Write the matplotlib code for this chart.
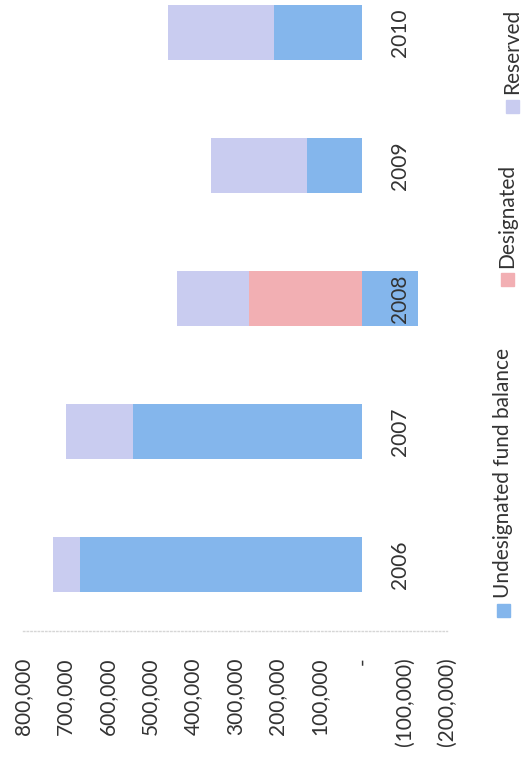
import matplotlib
matplotlib.use('Agg')
import matplotlib.pyplot as plt
from matplotlib.patches import Rectangle
from matplotlib.ticker import FuncFormatter

# ---- data ----
years = ['2006', '2007', '2008', '2009', '2010']
undesignated = [665000, 540000, -132000, 130000, 208000]
designated = [0, 0, 267000, 0, 0]
reserved = [64000, 158000, 169000, 226000, 250000]
value_ticks = [800000, 700000, 600000, 500000, 400000, 300000, 200000,
               100000, 0, -100000, -200000]
series_names = ['Undesignated fund balance', 'Designated', 'Reserved']

c_und = '#84b6ec'
c_des = '#f2afb3'
c_res = '#c9ccf0'
txt = '#333333'

plt.rcParams['font.family'] = ['Lato', 'DejaVu Sans']

W, H = 523, 759
fig = plt.figure(figsize=(W / 100, H / 100), dpi=100)
fig.patch.set_facecolor('white')

# chart is shown rotated 90 degrees: values grow to the left, years go upward
ax = fig.add_axes([23 / W, (H - 631) / H, (447 - 23) / W, (631 + 34) / H])
pos = list(range(len(years)))
bh = 0.41

des_left = [max(u, 0) for u in undesignated]
res_left = [max(u, 0) + d for u, d in zip(undesignated, designated)]

ax.barh(pos, undesignated, height=bh, color=c_und, label=series_names[0])
ax.barh(pos, designated, left=des_left, height=bh, color=c_des, label=series_names[1])
ax.barh(pos, reserved, left=res_left, height=bh, color=c_res, label=series_names[2])

ax.set_xlim(800000, -200000)
ax.set_ylim(-0.5, 4.5)


def fmt(v, _):
    if v == 0:
        return '-'
    if v < 0:
        return '({:,.0f})'.format(-v)
    return '{:,.0f}'.format(v)


ax.set_xticks(value_ticks)
ax.xaxis.set_major_formatter(FuncFormatter(fmt))
ax.tick_params(axis='x', length=0, pad=19, labelrotation=90, labelsize=15,
               colors=txt)
for lab in ax.get_xticklabels():
    lab.set_va('top')
    lab.set_ha('center')

ax.yaxis.tick_right()
ax.spines['right'].set_position(('data', 0))
ax.set_yticks(pos)
ax.set_yticklabels(years)
ax.tick_params(axis='y', length=0, pad=20, labelrotation=90, labelsize=15,
               colors=txt)
for lab in ax.get_yticklabels():
    lab.set_va('center')
    lab.set_ha('left')

for s in ['left', 'top', 'right']:
    ax.spines[s].set_visible(False)
ax.spines['bottom'].set_color('#d6d6d6')
ax.spines['bottom'].set_linestyle(':')
ax.spines['bottom'].set_linewidth(1.0)
ax.set_facecolor('none')

# ---- legend (rotated, along the right edge) ----
leg_items = [(series_names[0], c_und, 503, 610, 598),
             (series_names[1], c_des, 507, 279, 268),
             (series_names[2], c_res, 512, 106, 94)]
sq = 13
for name, col, xc, yc, ytext in leg_items:
    fig.add_artist(Rectangle(((xc - sq / 2) / W, (H - yc - sq / 2) / H), sq / W, sq / H,
                             transform=fig.transFigure, color=col))
    fig.text(xc / W, (H - ytext) / H, name, rotation=90, ha='center', va='bottom',
             fontsize=15, color=txt)

fig.savefig('out.png', dpi=100, facecolor='white')
